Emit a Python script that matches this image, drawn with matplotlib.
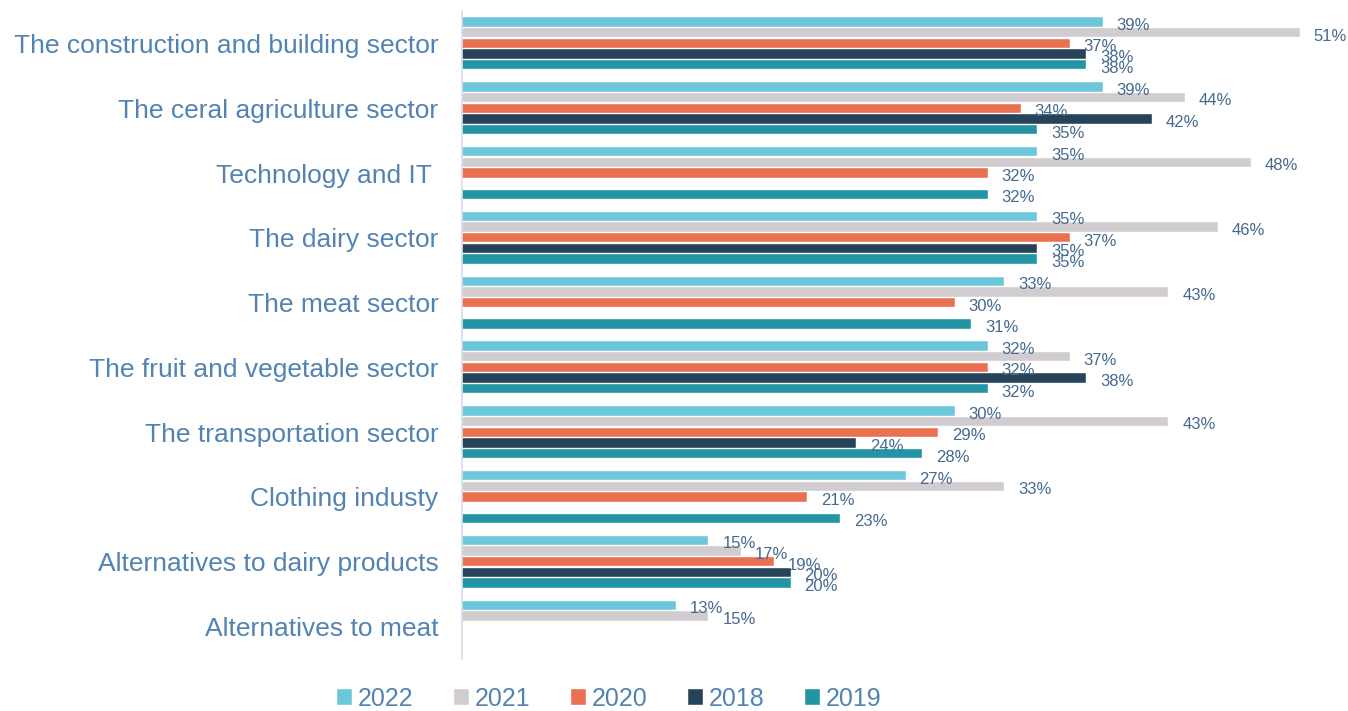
import matplotlib.pyplot as plt
import numpy as np

# categories, top to bottom
categories = [
    "The construction and building sector",
    "The ceral agriculture sector",
    "Technology and IT ",
    "The dairy sector",
    "The meat sector",
    "The fruit and vegetable sector",
    "The transportation sector",
    "Clothing industy",
    "Alternatives to dairy products",
    "Alternatives to meat",
]

# values in percent, None = no bar
v2022 = [39, 39, 35, 35, 33, 32, 30, 27, 15, 13]
v2021 = [51, 44, 48, 46, 43, 37, 43, 33, 17, 15]
v2020 = [37, 34, 32, 37, 30, 32, 29, 21, 19, None]
v2018 = [38, 42, None, 35, None, 38, 24, None, 20, None]
v2019 = [38, 35, 32, 35, 31, 32, 28, 23, 20, None]

series = [("2022", v2022, "#6CC7DB"),
          ("2021", v2021, "#D1CCCF"),
          ("2020", v2020, "#E97051"),
          ("2018", v2018, "#26435A"),
          ("2019", v2019, "#2394A4")]

label_col = "#5283B2"
value_col = "#45698F"

fig = plt.figure(figsize=(13.48, 7.11), dpi=100)
ax = fig.add_axes([462 / 1348, 1 - 659 / 711, 1 - 462 / 1348, 648 / 711])

y = np.arange(len(categories))
slot = 0.165
bh = 0.145

for k, (name, vals, col) in enumerate(series):
    off = (k - 2) * slot
    ys = [yy + off for yy, v in zip(y, vals) if v is not None]
    xs = [v for v in vals if v is not None]
    ax.barh(ys, xs, height=bh, color=col, label=name, edgecolor="white", linewidth=0.3)
    for yy, v in zip(ys, xs):
        ax.annotate(f"{v}%", (v, yy), xytext=(10, -2.5), textcoords="offset points",
                    ha="left", va="center", fontsize=12, color=value_col,
                    family="Liberation Sans")

ax.set_xlim(0, 886 / 16.43)
ax.set_ylim(len(categories) - 0.5, -0.5)
ax.set_yticks(y)
ax.set_yticklabels(categories, fontsize=19, color=label_col, family="Liberation Sans")
ax.tick_params(axis="y", length=0, pad=17)
ax.set_xticks([])
for s in ["top", "right", "bottom"]:
    ax.spines[s].set_visible(False)
ax.spines["left"].set_color("#D5DEE8")
ax.spines["left"].set_linewidth(1.2)

leg = fig.legend(loc="center", bbox_to_anchor=(0.452, 0.017), ncol=5, frameon=False,
                 handlelength=0.6, handleheight=0.6, handletextpad=0.25,
                 columnspacing=1.6, borderpad=0.2,
                 prop={"family": "Liberation Sans", "size": 18})
for t in leg.get_texts():
    t.set_color(label_col)

plt.savefig("out.png", dpi=100)
